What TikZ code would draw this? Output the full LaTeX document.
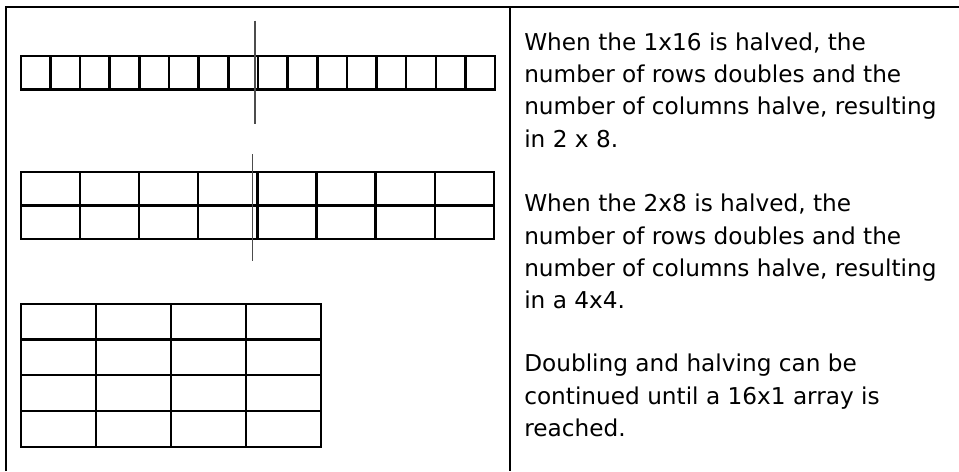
\documentclass[tikz,border=0pt]{standalone}
\usepackage{fontspec}
\setmainfont{DejaVu Sans}
\usetikzlibrary{positioning}
\tikzset{
  gridline/.style={line width=1.8pt},
  cutline/.style={line width=1pt,gray!60!black},
  note/.style={anchor=north west,inner sep=0pt,align=left,
    font=\fontsize{17.4pt}{24.2pt}\selectfont}
}

\begin{document}
\begin{tikzpicture}[x=0.75pt,y=-0.75pt]
  \useasboundingbox (0,0) rectangle (959,471);
  % frame and divider
  \draw[gridline] (6,471) -- (6,6.7) -- (959,6.7);
  \draw[gridline] (510,6.7) -- (510,471);
  % 1 x 16
  \foreach \i in {0,...,15}
    \draw[gridline] ({20.7+29.66*\i},56) rectangle ++(29.66,33.3);
  \draw[cutline] (255,20.7) -- (255,124.3);
  % 2 x 8
  \foreach \i in {0,...,7}
    \foreach \j in {0,1}
      \draw[gridline] ({20.7+59.16*\i},{172+33.35*\j}) rectangle ++(59.16,33.35);
  \draw[cutline] (252.7,154) -- (252.7,260.7);
  % 4 x 4
  \foreach \i in {0,...,3}
    \foreach \j in {0,...,3}
      \draw[gridline] ({20.7+75.1*\i},{303.7+35.75*\j}) rectangle ++(75.1,35.75);
  % notes
  \node[note] (halve1) at (524,32.4) {When the 1x16 is halved, the\\number of rows doubles and the\\number of columns halve, resulting\\in 2 x 8.};
  \node[note] (halve2) at (524,194) {When the 2x8 is halved, the\\number of rows doubles and the\\number of columns halve, resulting\\in a 4x4.};
  \node[note] (goon) at (524,354) {Doubling and halving can be\\continued until a 16x1 array is\\reached.};
\end{tikzpicture}
\end{document}
